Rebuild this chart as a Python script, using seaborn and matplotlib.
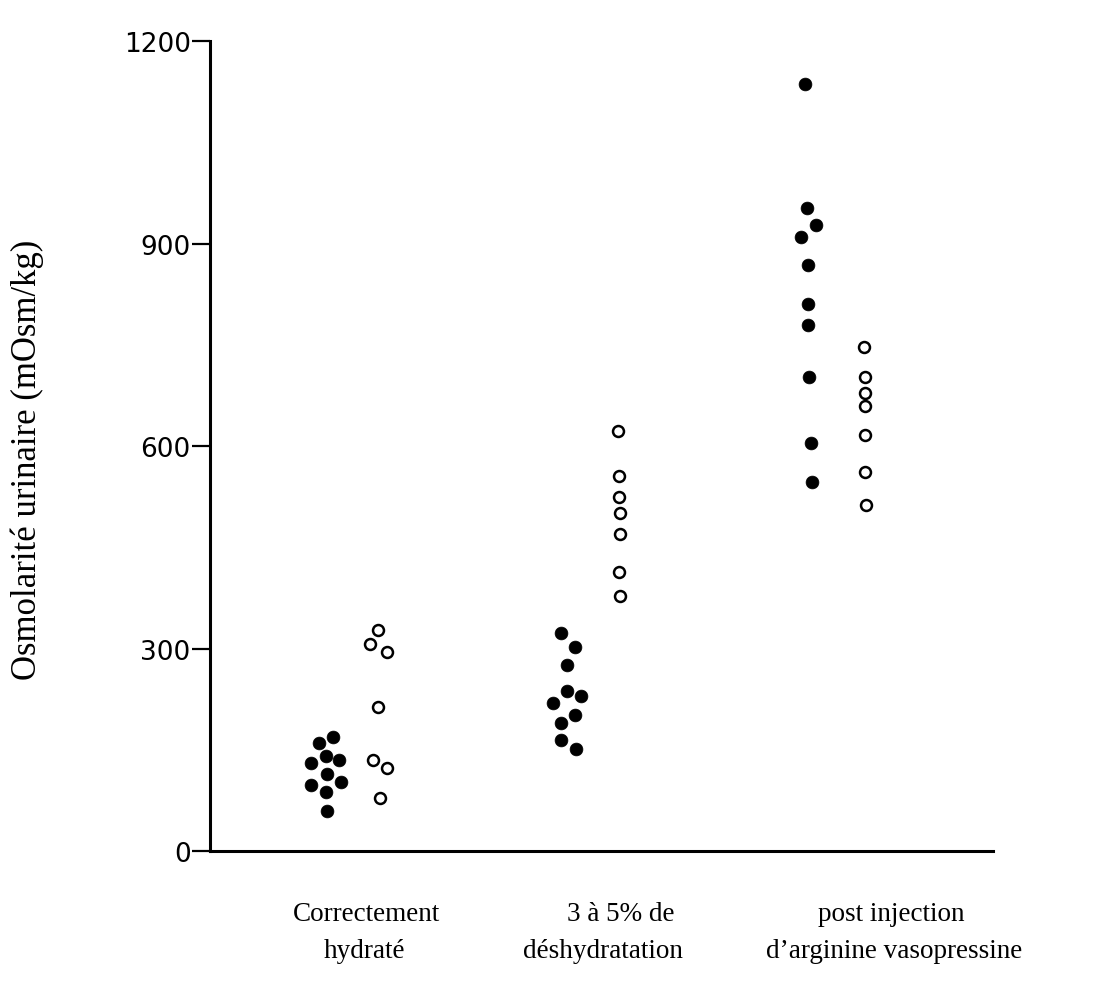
import numpy as np
import pandas as pd
import matplotlib
matplotlib.use("Agg")
import matplotlib.pyplot as plt
import matplotlib.transforms as mtransforms
import seaborn as sns

# --- values (mOsm/kg) ---
groups = [1, 2, 3]
group_line1 = ["Correctement", "3 à 5% de", "post injection"]
group_line2 = ["hydraté", "déshydratation", "d\u2019arginine vasopressine"]
y_ticks = [0, 300, 600, 900, 1200]

# filled dots
filled_1 = [169, 160, 131, 141, 135, 114, 98, 102, 88, 59]
filled_2 = [323, 303, 275, 237, 230, 219, 202, 190, 165, 151]
filled_3 = [1136, 952, 927, 909, 868, 810, 780, 703, 605, 546]
# horizontal scatter of each dot around its group (group width units)
filled_1_dx = [-0.07, -0.128, -0.16, -0.099, -0.045, -0.095, -0.16, -0.037, -0.099, -0.095]
filled_2_dx = [-0.132, -0.074, -0.107, -0.107, -0.049, -0.165, -0.074, -0.132, -0.132, -0.07]
filled_3_dx = [-0.128, -0.119, -0.082, -0.144, -0.115, -0.115, -0.115, -0.111, -0.103, -0.099]

# open dots
open_1 = [328, 306, 295, 214, 135, 123, 79]
open_2 = [623, 556, 525, 501, 470, 414, 378]
open_3 = [746, 703, 679, 659, 616, 562, 513]
open_1_dx = [0.115, 0.082, 0.152, 0.115, 0.095, 0.152, 0.123]
open_2_dx = [0.103, 0.107, 0.107, 0.111, 0.111, 0.107, 0.111]
open_3_dx = [0.115, 0.119, 0.119, 0.119, 0.119, 0.119, 0.123]


def build(vals, dxs, kind):
    rows = []
    for g, v, d in zip(groups, vals, dxs):
        for val, dx in zip(v, d):
            rows.append({"group": g, "x": g + dx, "osm": val, "kind": kind})
    return rows


df = pd.DataFrame(
    build([filled_1, filled_2, filled_3], [filled_1_dx, filled_2_dx, filled_3_dx], "filled")
    + build([open_1, open_2, open_3], [open_1_dx, open_2_dx, open_3_dx], "open")
)

sns.set_style("white")
plt.rcParams["text.color"] = "black"

fig = plt.figure(figsize=(11.18, 10.03), dpi=100)
ax = fig.add_axes([0.188, 0.1505, 0.700, 0.8076])

sns.scatterplot(data=df[df.kind == "filled"], x="x", y="osm", ax=ax,
                color="black", edgecolor="black", s=85, linewidth=0.5,
                legend=False, zorder=3)
sns.scatterplot(data=df[df.kind == "open"], x="x", y="osm", ax=ax,
                facecolor="white", edgecolor="black", s=62, linewidth=1.8,
                legend=False, zorder=3)

ax.set_xlim(0.424, 3.646)
ax.set_ylim(0, 1200)
ax.set_yticks(y_ticks)
ax.set_yticklabels([str(t) for t in y_ticks], fontfamily="DejaVu Sans", fontsize=19)
ax.set_xticks([])
ax.set_xlabel("")
ax.set_ylabel("")
ax.tick_params(axis="y", left=True, direction="out", length=13, width=1.6,
               pad=1, colors="black", labelcolor="black")

for side in ["top", "right"]:
    ax.spines[side].set_visible(False)
ax.spines["left"].set_linewidth(2.2)
ax.spines["bottom"].set_linewidth(2.2)
ax.spines["left"].set_color("black")
ax.spines["bottom"].set_color("black")
ax.patch.set_alpha(0)

# y label, Times-like serif as in the source
fig.text(27 / 1118, 1 - 460 / 1003, "Osmolarité urinaire (mOsm/kg)",
         rotation=90, ha="center", va="center", color="black",
         fontfamily="Liberation Serif", fontsize=25)

# group labels below the axis (two lines each)
line1_x = [1.066, 2.115, 3.23]
line2_x = [1.058, 2.04, 3.24]
trans = mtransforms.blended_transform_factory(ax.transData, fig.transFigure)
for x1, x2, t1, t2 in zip(line1_x, line2_x, group_line1, group_line2):
    fig.text(x1, 1 - 915 / 1003, t1, transform=trans, ha="center", va="center",
             color="black", fontfamily="Liberation Serif", fontsize=19.5)
    fig.text(x2, 1 - 952 / 1003, t2, transform=trans, ha="center", va="center",
             color="black", fontfamily="Liberation Serif", fontsize=19.5)

fig.savefig("out.png", dpi=100, facecolor="white")
